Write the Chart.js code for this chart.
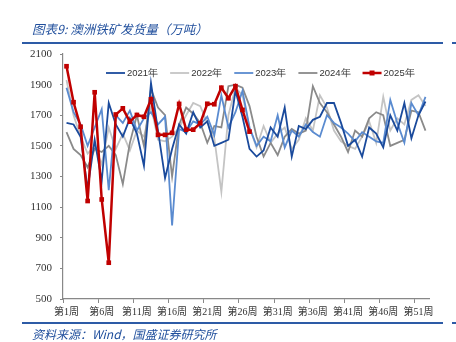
<!DOCTYPE html>
<html>
<head>
<meta charset="utf-8">
<script src="https://cdn.jsdelivr.net/npm/chart.js@4/dist/chart.umd.min.js"></script>
<style>
  body { margin: 0; background: #fff; }
  #wrap { position: relative; width: 456px; height: 342px; overflow: hidden; }
  #myChart { position: absolute; left: 0; top: 0; }
  .txt { position: absolute; font-family: "Noto Sans CJK SC", sans-serif; font-style: italic; color: #1f4e9c; white-space: nowrap; }
  .rule { position: absolute; height: 2px; background: #2d5ba6; }
</style>
</head>
<body>
<div id="wrap">
  <canvas id="myChart" width="456" height="342"></canvas>
  <div class="txt" style="left:32px; top:19px; font-size:12.5px;">图表9: 澳洲铁矿发货量（万吨）</div>
  <div class="rule" style="left:22px; top:42px; width:421px;"></div>
  <div class="rule" style="left:452px; top:42px; width:4px;"></div>
  <div class="rule" style="left:22px; top:322px; width:421px;"></div>
  <div class="rule" style="left:452px; top:322px; width:4px;"></div>
  <div class="txt" style="left:32px; top:325px; font-size:12px;">资料来源：Wind，国盛证券研究所</div>
</div>
<script>
// weeks 1..52
const semanas = []
for (let i = 1; i <= 52; i++) semanas.push('第' + i + '周')

const yTicks = [500, 700, 900, 1100, 1300, 1500, 1700, 1900, 2100]

const y2021 = [1650,1640,1560,1220,1540,1270,1780,1640,1560,1680,1580,1370,1910,1600,1290,1480,1640,1580,1720,1620,1660,1500,1520,1540,1860,1690,1480,1430,1470,1620,1560,1750,1430,1630,1610,1670,1690,1780,1780,1650,1500,1540,1430,1620,1580,1490,1700,1600,1780,1550,1700,1790]
const y2022 = [1930,1700,1560,1450,1500,1380,1620,1480,1580,1470,1600,1560,1760,1540,1530,1560,1620,1700,1780,1760,1650,1550,1200,1700,1880,1830,1620,1490,1630,1520,1580,1620,1480,1540,1680,1600,1830,1750,1600,1530,1500,1480,1560,1660,1520,1820,1600,1680,1640,1800,1830,1760]
const y2023 = [1880,1720,1640,1500,1620,1740,1210,1700,1650,1730,1600,1680,1720,1640,1690,980,1610,1590,1660,1640,1690,1570,1830,1620,1720,1860,1620,1500,1560,1530,1700,1490,1600,1560,1640,1590,1560,1700,1650,1620,1580,1530,1590,1560,1530,1520,1800,1650,1520,1780,1700,1820]
const y2024 = [1590,1480,1440,1360,1480,1460,1500,1440,1250,1520,1700,1500,1870,1750,1700,1300,1640,1750,1710,1650,1520,1630,1620,1890,1900,1880,1760,1560,1430,1520,1440,1560,1610,1580,1600,1890,1780,1720,1640,1560,1460,1600,1560,1680,1720,1700,1500,1520,1540,1730,1720,1600]
const y2025 = [2020,1785,1625,1140,1850,1150,737,1705,1745,1658,1702,1690,1804,1572,1572,1585,1774,1606,1606,1648,1775,1772,1880,1811,1890,1735,1593]

const colores = ['#1a4a9c', '#c4c4c4', '#5a8bd0', '#8a8a8a', '#c00000']
const nombres = ['2021年', '2022年', '2023年', '2024年', '2025年']

const series = [y2021, y2022, y2023, y2024, y2025]
const drawOrder = [1, 4, 2, 3, 0]

const datasets = series.map((d, i) => ({
  label: nombres[i],
  data: d,
  borderColor: colores[i],
  backgroundColor: colores[i],
  borderWidth: i === 4 ? 2.5 : 1.8,
  pointRadius: i === 4 ? 3.3 : 0,
  pointStyle: i === 4 ? 'rect' : 'line',
  pointBorderWidth: 0,
  tension: 0,
  order: drawOrder[i]
}))

// legend drawn inside the plot, one row near the top
const leyendaDentro = {
  id: 'leyendaDentro',
  afterDraw(chart) {
    const g = chart.ctx
    const sets = chart.data.datasets
    g.save()
    g.font = '9.5px "Liberation Sans"'
    g.textBaseline = 'middle'
    const lineW = 19, gap = 2, sep = 12
    let x = 106
    const y = 73
    sets.forEach((ds) => {
      g.strokeStyle = ds.borderColor
      g.lineWidth = ds.borderWidth
      g.beginPath(); g.moveTo(x, y); g.lineTo(x + lineW, y); g.stroke()
      if (ds.pointRadius > 0) {
        g.fillStyle = ds.borderColor
        g.fillRect(x + lineW / 2 - 2.5, y - 2.5, 5, 5)
      }
      x += lineW + gap
      g.fillStyle = '#333'
      g.fillText(ds.label, x, y + 0.5)
      x += g.measureText(ds.label).width + sep
    })
    g.restore()
  }
}

const ctx = document.getElementById('myChart')

new Chart(ctx, {
  type: 'line',
  data: { labels: semanas, datasets: datasets },
  plugins: [leyendaDentro],
  options: {
    responsive: false,
    animation: false,
    layout: { padding: { left: 0, top: 54, right: 27, bottom: 23 } },
    plugins: {
      tooltip: { enabled: false },
      legend: { display: false }
    },
    scales: {
      x: {
        type: 'category',
        offset: true,
        afterFit: (s) => { s.height = 20 },
        grid: {
          offset: true,
          drawOnChartArea: false,
          tickLength: 4,
          tickColor: (c) => (c.index % 5 === 0 ? '#888' : 'rgba(0,0,0,0)'),
          color: (c) => (c.index % 5 === 0 ? '#888' : 'rgba(0,0,0,0)')
        },
        border: { color: '#888', width: 1.2 },
        ticks: {
          autoSkip: false,
          maxRotation: 0,
          padding: 3,
          color: '#333',
          font: { family: 'Liberation Serif, Noto Sans CJK SC', size: 10 },
          callback: function (v, i) { return i % 5 === 0 ? semanas[i] : '' }
        }
      },
      y: {
        min: 500,
        max: 2100,
        afterFit: (s) => { s.width = 63 },
        afterBuildTicks: (s) => { s.ticks = yTicks.map(v => ({ value: v })) },
        grid: { drawOnChartArea: false, tickLength: 3, color: '#888' },
        border: { color: '#888', width: 1.2 },
        ticks: {
          padding: 8,
          color: '#333',
          font: { family: 'Liberation Serif', size: 11 },
          callback: (v) => String(v)
        }
      }
    }
  }
})
</script>
</body>
</html>
